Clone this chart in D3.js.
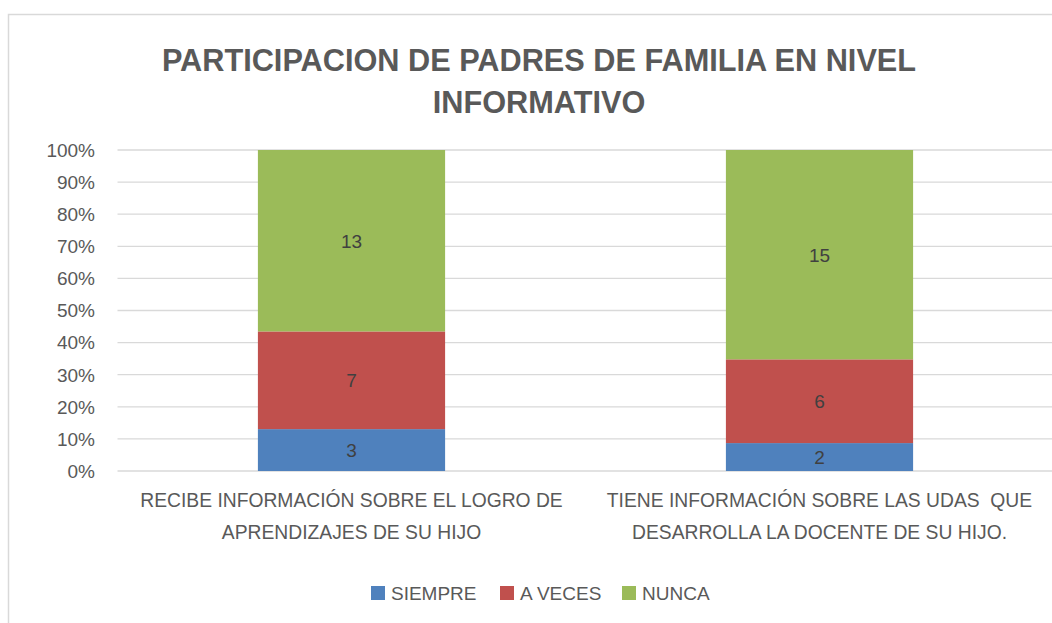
<!DOCTYPE html>
<html>
  <head>
    <style>
      body { margin: 0; background: #fff; }
      svg text { font-family: "Liberation Sans", Arial, sans-serif; fill: #595959; }
      .grid line { stroke: #d9d9d9; stroke-width: 1.3; }
      .title { font-weight: bold; font-size: 30.7px; text-anchor: middle; }
      .ytick { font-size: 19px; text-anchor: end; }
      .cat { font-size: 19.3px; text-anchor: middle; white-space: pre; }
      .lbl { font-size: 19px; text-anchor: middle; fill: #404040; }
      .leg { font-size: 19px; }
    </style>
  </head>
  <body>
    <svg class="chart" width="1052" height="623"></svg>

    <script src="https://d3js.org/d3.v7.min.js"></script>
    <script type="text/javascript">
      const categories = [
        ["RECIBE INFORMACIÓN SOBRE EL LOGRO DE", "APRENDIZAJES DE SU HIJO"],
        ["TIENE INFORMACIÓN SOBRE LAS UDAS  QUE", "DESARROLLA LA DOCENTE DE SU HIJO."]
      ];
      const seriesNames = ["SIEMPRE", "A VECES", "NUNCA"];
      const siempre = [3, 2];
      const aVeces = [7, 6];
      const nunca = [13, 15];
      const colors = ["#4f81bd", "#c0504d", "#9bbb59"];
      const yTicks = [0, 0.1, 0.2, 0.3, 0.4, 0.5, 0.6, 0.7, 0.8, 0.9, 1];

      (function() {
        const svg = d3.select('.chart');

        // outer chart border
        svg.append("rect")
          .attr("x", 8.5).attr("y", 14.5)
          .attr("width", 1100).attr("height", 700)
          .attr("fill", "none").attr("stroke", "#d9d9d9").attr("stroke-width", 1.5);

        svg.append("text").attr("class", "title")
          .attr("x", 539).attr("y", 71)
          .text("PARTICIPACION DE PADRES DE FAMILIA EN NIVEL");
        svg.append("text").attr("class", "title")
          .attr("x", 539).attr("y", 113)
          .text("INFORMATIVO");

        const x = d3.scaleBand().domain(d3.range(categories.length))
          .range([117.5, 1053.5]).paddingInner(0.6).paddingOuter(0.3);
        const y = d3.scaleLinear().domain([0, 1]).range([471, 150]);

        svg.append("g").attr("class", "grid")
          .selectAll("line").data(yTicks).enter().append("line")
          .attr("x1", 117.5).attr("x2", 1052)
          .attr("y1", d => y(d)).attr("y2", d => y(d));

        svg.append("g").selectAll("text").data(yTicks).enter().append("text")
          .attr("class", "ytick")
          .attr("x", 95).attr("y", d => y(d)).attr("dy", "0.36em")
          .text(d3.format(".0%"));

        const rows = categories.map((c, i) => ({ i: i, SIEMPRE: siempre[i], "A VECES": aVeces[i], NUNCA: nunca[i] }));
        const stacked = d3.stack().keys(seriesNames).offset(d3.stackOffsetExpand)(rows);
        const raw = [siempre, aVeces, nunca];

        const layer = svg.append("g").selectAll("g").data(stacked).enter().append("g")
          .attr("fill", (d, k) => colors[k]);

        layer.selectAll("rect").data(d => d).enter().append("rect")
          .attr("x", d => x(d.data.i))
          .attr("width", x.bandwidth())
          .attr("y", d => y(d[1]))
          .attr("height", d => y(d[0]) - y(d[1]));

        layer.each(function(s, k) {
          d3.select(this).selectAll("text").data(s).enter().append("text")
            .attr("class", "lbl")
            .attr("x", d => x(d.data.i) + x.bandwidth() / 2)
            .attr("y", d => y((d[0] + d[1]) / 2)).attr("dy", "0.36em")
            .text((d, j) => raw[k][j]);
        });

        const cat = svg.append("g").selectAll("text").data(categories).enter().append("text")
          .attr("class", "cat")
          .attr("x", (d, i) => x(i) + x.bandwidth() / 2)
          .attr("y", 507);
        cat.append("tspan").attr("x", (d, i) => x(i) + x.bandwidth() / 2).text(d => d[0]);
        cat.append("tspan").attr("x", (d, i) => x(i) + x.bandwidth() / 2).attr("dy", 32).text(d => d[1]);

        const legX = [371, 500, 622];
        const leg = svg.append("g").selectAll("g").data(seriesNames).enter().append("g")
          .attr("transform", (d, k) => "translate(" + legX[k] + ",586)");
        leg.append("rect").attr("width", 14).attr("height", 14).attr("fill", (d, k) => colors[k]);
        leg.append("text").attr("class", "leg").attr("x", 20).attr("y", 7).attr("dy", "0.36em").text(d => d);
      })()
    </script>
  </body>
</html>
